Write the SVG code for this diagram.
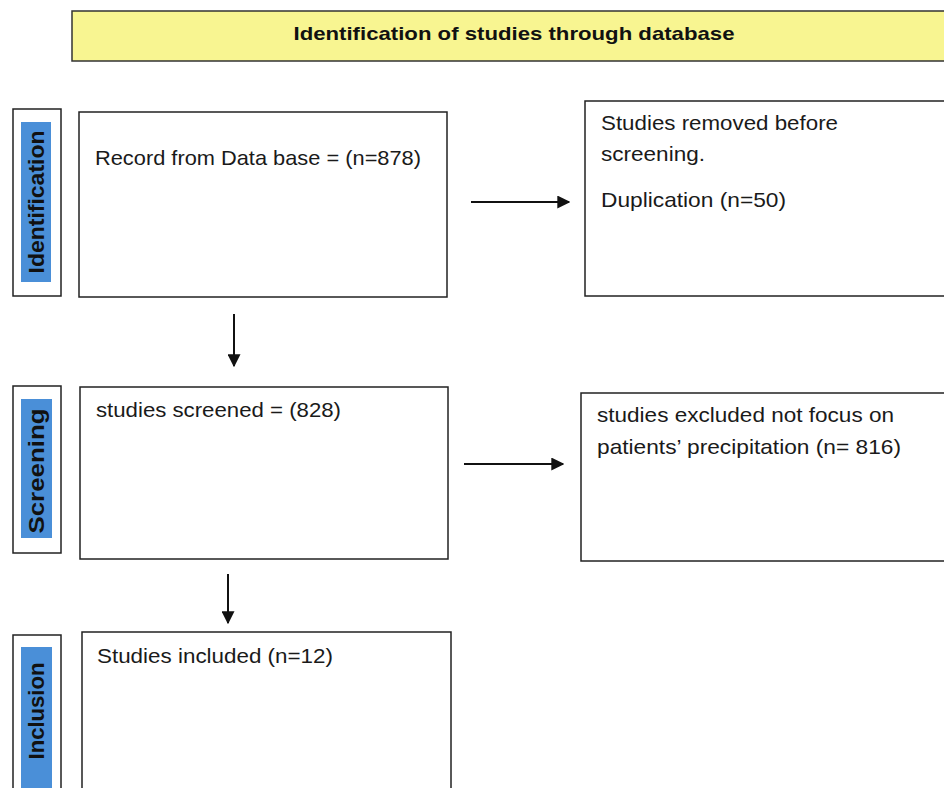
<svg xmlns="http://www.w3.org/2000/svg" width="944" height="788" viewBox="0 0 944 788">
<defs>
<style>
.box{fill:#fff;stroke:#222;stroke-width:1.5}
.side{fill:#fff;stroke:#222;stroke-width:1.5}
.blue{fill:#4a8fd8}
.t{font-family:"Liberation Sans","Open Sans",sans-serif;font-size:21px;fill:#1a1a1a}
.st{font-family:"Liberation Sans",Arial,sans-serif;font-size:19px;font-weight:bold;fill:#111}
.sl{font-family:"Liberation Sans",Arial,sans-serif;font-size:22px;font-weight:bold;fill:#111}
.conn{stroke:#111;stroke-width:2;fill:none}
</style>
<marker id="ah" viewBox="0 0 10 10" refX="9" refY="5" markerWidth="6.5" markerHeight="6.5" orient="auto">
<path d="M0,0 L10,5 L0,10 z" fill="#111"/>
</marker>
</defs>
<rect width="944" height="788" fill="#fff"/>
<g id="banner">
<rect x="72" y="11" width="880" height="50" fill="#f8f591" stroke="#333" stroke-width="1.5"/>
<text x="514" y="40" text-anchor="middle" class="st" textLength="441" lengthAdjust="spacingAndGlyphs">Identification of studies through database</text>
</g>
<g id="side-identification">
<rect class="side" x="13" y="109" width="48" height="187"/>
<rect class="blue" x="21" y="122" width="30" height="160"/>
<text class="sl" transform="translate(44,202) rotate(-90)" text-anchor="middle" textLength="143" lengthAdjust="spacingAndGlyphs">Identification</text>
</g>
<g id="side-screening">
<rect class="side" x="13" y="386" width="48" height="167"/>
<rect class="blue" x="21" y="399" width="31" height="139"/>
<text class="sl" transform="translate(44,471) rotate(-90)" text-anchor="middle" textLength="125" lengthAdjust="spacingAndGlyphs">Screening</text>
</g>
<g id="side-inclusion">
<rect class="side" x="13" y="635" width="48" height="170"/>
<rect class="blue" x="21" y="647" width="31" height="150"/>
<text class="sl" transform="translate(44,711) rotate(-90)" text-anchor="middle" textLength="97" lengthAdjust="spacingAndGlyphs">Inclusion</text>
</g>
<g id="node-records">
<rect class="box" x="79" y="112" width="368" height="185"/>
<text class="t" x="95" y="165" textLength="326" lengthAdjust="spacingAndGlyphs">Record from Data base = (n=878)</text>
</g>
<g id="node-removed">
<rect class="box" x="585" y="101" width="370" height="195"/>
<text class="t" x="601" y="130" textLength="237" lengthAdjust="spacingAndGlyphs">Studies removed before</text>
<text class="t" x="601" y="161" textLength="104" lengthAdjust="spacingAndGlyphs">screening.</text>
<text class="t" x="601" y="207" textLength="185" lengthAdjust="spacingAndGlyphs">Duplication (n=50)</text>
</g>
<g id="node-screened">
<rect class="box" x="80" y="387" width="368" height="172"/>
<text class="t" x="96" y="417" textLength="245" lengthAdjust="spacingAndGlyphs">studies screened = (828)</text>
</g>
<g id="node-excluded">
<rect class="box" x="581" y="393" width="375" height="168"/>
<text class="t" x="597" y="422" textLength="297" lengthAdjust="spacingAndGlyphs">studies excluded not focus on</text>
<text class="t" x="597" y="454" textLength="304" lengthAdjust="spacingAndGlyphs">patients’ precipitation (n= 816)</text>
</g>
<g id="node-included">
<rect class="box" x="82" y="632" width="369" height="170"/>
<text class="t" x="97" y="663" textLength="236" lengthAdjust="spacingAndGlyphs">Studies included (n=12)</text>
</g>
<g id="connectors">
<line class="conn" x1="471" y1="202" x2="569" y2="202" marker-end="url(#ah)"/>
<line class="conn" x1="234" y1="314" x2="234" y2="366" marker-end="url(#ah)"/>
<line class="conn" x1="464" y1="464" x2="563" y2="464" marker-end="url(#ah)"/>
<line class="conn" x1="228" y1="574" x2="228" y2="623" marker-end="url(#ah)"/>
</g>
</svg>
